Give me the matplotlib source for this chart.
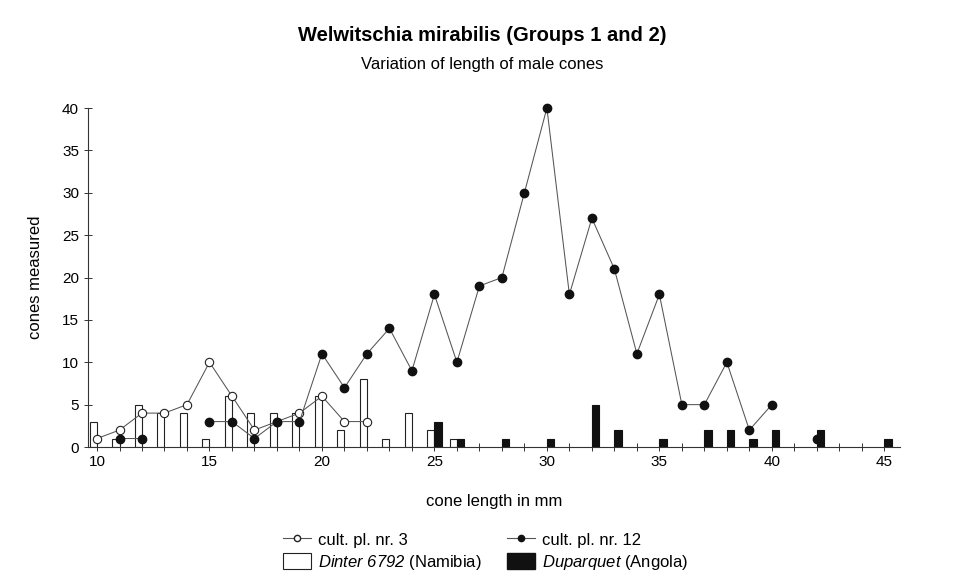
import numpy as np
import matplotlib
matplotlib.use("Agg")
import matplotlib.pyplot as plt
from matplotlib.lines import Line2D
from matplotlib.patches import Patch

plt.rcParams['font.family'] = ['Liberation Sans', 'DejaVu Sans']
plt.rcParams['mathtext.fontset'] = 'custom'
plt.rcParams['mathtext.it'] = 'Liberation Sans:italic'
plt.rcParams['mathtext.rm'] = 'Liberation Sans:italic'

# cult. pl. nr. 3 (open circles)
x3 = [10, 11, 12, 13, 14, 15, 16, 17, 18, 19, 20, 21, 22]
y3 = [1, 2, 4, 4, 5, 10, 6, 2, 3, 4, 6, 3, 3]

# cult. pl. nr. 12 (filled circles)
x12 = [11, 12, 13, 14, 15, 16, 17, 18, 19, 20, 21, 22, 23, 24, 25, 26, 27, 28, 29,
       30, 31, 32, 33, 34, 35, 36, 37, 38, 39, 40, 41, 42]
y12 = [1, 1, np.nan, np.nan, 3, 3, 1, 3, 3, 11, 7, 11, 14, 9, 18, 10, 19, 20, 30,
       40, 18, 27, 21, 11, 18, 5, 5, 10, 2, 5, np.nan, 1]

# Dinter 6792 (Namibia) - white bars
xd = [10, 11, 12, 13, 14, 15, 16, 17, 18, 19, 20, 21, 22, 23, 24, 25, 26]
yd = [3, 1, 5, 4, 4, 1, 6, 4, 4, 4, 6, 2, 8, 1, 4, 2, 1]

# Duparquet (Angola) - black bars
xa = [25, 26, 28, 30, 32, 33, 35, 37, 38, 39, 40, 42, 45]
ya = [3, 1, 1, 1, 5, 2, 1, 2, 2, 1, 2, 2, 1]

xticks_major = [10, 15, 20, 25, 30, 35, 40, 45]
yticks_major = [0, 5, 10, 15, 20, 25, 30, 35, 40]

fig = plt.figure(figsize=(9.65, 5.87), dpi=100)
ax = fig.add_axes([0.0912, 0.2385, 0.8415, 0.5775])

bw = 0.32
ax.bar(xd, yd, width=-bw, align='edge', facecolor='white', edgecolor='#222222',
       linewidth=0.8, zorder=2)
ax.bar(xa, ya, width=bw, align='edge', facecolor='#111111', edgecolor='#111111',
       linewidth=0.8, zorder=2)

ax.plot(x3, y3, color='#555555', linewidth=0.75, marker='o', markersize=6,
        markerfacecolor='white', markeredgecolor='#222222', markeredgewidth=0.8,
        zorder=3, clip_on=False)
ax.plot(x12, y12, color='#555555', linewidth=0.75, marker='o', markersize=6,
        markerfacecolor='#111111', markeredgecolor='#111111', zorder=4, clip_on=False)

ax.set_xlim(9.6, 45.7)
ax.set_ylim(0, 40)
ax.set_xticks(xticks_major)
ax.set_xticks(np.arange(10, 46, 1), minor=True)
ax.set_yticks(yticks_major)
for s in ['top', 'right']:
    ax.spines[s].set_visible(False)
for s in ['left', 'bottom']:
    ax.spines[s].set_linewidth(0.8)
    ax.spines[s].set_color('#333333')
ax.tick_params(axis='both', which='major', direction='inout', length=6, width=0.7,
               labelsize=11, colors='#333333', labelcolor='black')
ax.tick_params(axis='x', which='minor', direction='inout', length=6, width=0.7,
               colors='#333333')
ax.tick_params(axis='x', which='major', pad=3)

ax.set_xlabel('cone length in mm', fontsize=12, labelpad=18)
ax.set_ylabel('cones measured', fontsize=12, labelpad=14)

fig.text(0.5, 0.94, 'Welwitschia mirabilis (Groups 1 and 2)', ha='center', va='center',
         fontsize=14.5, fontweight='bold')
fig.text(0.5, 0.89, 'Variation of length of male cones', ha='center', va='center',
         fontsize=12)

handles = [
    Line2D([], [], color='#555555', lw=0.8, marker='o', markersize=4.5,
           markerfacecolor='white', markeredgecolor='#222222'),
    Patch(facecolor='white', edgecolor='#222222', linewidth=0.8),
    Line2D([], [], color='#555555', lw=0.8, marker='o', markersize=4.5,
           markerfacecolor='#111111', markeredgecolor='#111111'),
    Patch(facecolor='#111111', edgecolor='#111111'),
]
labels = ['cult. pl. nr. 3', r'$Dinter\ 6792$ (Namibia)',
          'cult. pl. nr. 12', r'$Duparquet$ (Angola)']
fig.legend(handles, labels, ncol=2, frameon=False, fontsize=12,
           loc='center', bbox_to_anchor=(0.503, 0.06), handlelength=1.7,
           handleheight=1.1, handletextpad=0.4, columnspacing=1.55, labelspacing=0.3)

fig.savefig('out.png', dpi=100)
